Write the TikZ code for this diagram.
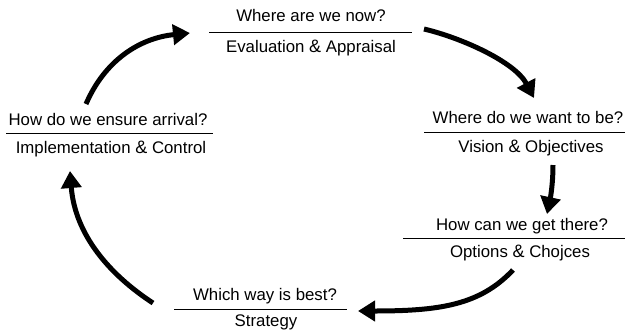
\documentclass[tikz,border=0pt]{standalone}
\usepackage{fontspec}
\setmainfont{Liberation Sans}
\usetikzlibrary{arrows.meta}
\newcommand{\amp}{{\fontsize{18}{18}\selectfont\&}}
\begin{document}
\begin{tikzpicture}[x=1pt,y=-1pt,
  lbl/.style={anchor=base,inner sep=0pt,font=\fontsize{16.8}{18}\selectfont},
  rulel/.style={line width=1pt},
  cyc/.style={line width=5pt,-{Triangle[length=17pt,width=20pt]}}]
\useasboundingbox (0,0) rectangle (625,333);
% top
\node[lbl] (q1) at (311,21) {Where are we now?};
\node[lbl] (a1) at (311,52) {Evaluation \amp{} Appraisal};
\draw[rulel] (209,32) -- (412,32);
% right
\node[lbl] (q2) at (528,123) {Where do we want to be?};
\node[lbl] (a2) at (531,152) {Vision \amp{} Objectives};
\draw[rulel] (424,132) -- (625,132);
% right lower
\node[lbl] (q3) at (522,230) {How can we get there?};
\node[lbl] (a3) at (520,257) {Options \amp{} Chojces};
\draw[rulel] (403,238) -- (625,238);
% bottom
\node[lbl] (q4) at (265,300) {Which way is best?};
\node[lbl] (a4) at (266,326) {Strategy};
\draw[rulel] (174,309) -- (347,309);
% left
\node[lbl] (q5) at (108,125) {How do we ensure arrival?};
\node[lbl] (a5) at (111,153) {Implementation \amp{} Control};
\draw[rulel] (6,133) -- (213,133);
% arrow end points
\coordinate (s1) at (86,104);  \coordinate (e1) at (190,33);
\coordinate (s2) at (424,29);  \coordinate (e2) at (534,98);
\coordinate (s3) at (553,165); \coordinate (e3) at (547,214);
\coordinate (s4) at (513,270); \coordinate (e4) at (358,311);
\coordinate (s5) at (153,303); \coordinate (e5) at (70,171);
\draw[cyc] (s1) .. controls (105,60) and (140,38) .. (e1);
\draw[cyc] (s2) .. controls (462,38) and (515,62) .. (e2);
\draw[cyc] (s3) .. controls (553,185) and (550,200) .. (e3);
\draw[cyc] (s4) .. controls (480,305) and (440,311) .. (e4);
\draw[cyc] (s5) .. controls (110,275) and (75,235) .. (e5);
\end{tikzpicture}
\end{document}
